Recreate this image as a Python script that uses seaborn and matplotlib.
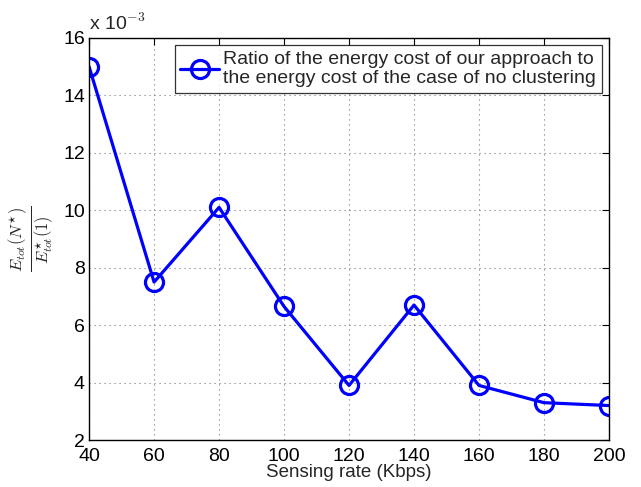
import matplotlib
matplotlib.use("Agg")
import matplotlib.pyplot as plt
import seaborn as sns
import pandas as pd

rates = [40, 60, 80, 100, 120, 140, 160, 180, 200]
ratio_e3 = [15.0, 7.5, 10.1, 6.65, 3.9, 6.7, 3.9, 3.3, 3.2]
x_ticks = [40, 60, 80, 100, 120, 140, 160, 180, 200]
y_ticks = [2, 4, 6, 8, 10, 12, 14, 16]
legend_label = "Ratio of the energy cost of our approach to\nthe energy cost of the case of no clustering"

sns.set_style("white")
plt.rcParams['font.family'] = ['Liberation Sans', 'DejaVu Sans']
plt.rcParams['mathtext.fontset'] = 'cm'

df = pd.DataFrame({"rate": rates, "ratio": ratio_e3})

fig = plt.figure(figsize=(6.41, 4.87), dpi=100)
ax = fig.add_axes([0.139, 0.0965, 0.811, 0.8255])

sns.lineplot(data=df, x="rate", y="ratio", ax=ax, color="#0000ff",
             linewidth=2.3, marker="o", markersize=13, markerfacecolor="none",
             markeredgecolor="#0000ff", markeredgewidth=2.3, label=legend_label)

ax.set_xlim(40, 200)
ax.set_ylim(2, 16)
ax.set_xticks(x_ticks)
ax.set_yticks(y_ticks)
ax.tick_params(direction="in", length=5, width=0.8, labelsize=14, top=True, right=True,
               colors="black")
ax.tick_params(axis="x", pad=6)
ax.tick_params(axis="y", pad=3)
ax.grid(True, linestyle=(0, (1, 3.5)), color="#777777", linewidth=0.8)
for s in ax.spines.values():
    s.set_visible(True)
    s.set_color("black")
    s.set_linewidth(1.0)

ax.set_xlabel("Sensing rate (Kbps)", fontsize=13.5, labelpad=-1)
ax.set_ylabel(r"$\frac{E_{tot}(N^{\star})}{E^{\star}_{tot}(1)}$", fontsize=17,
              va="center", ha="center", rotation_mode="default")
ax.yaxis.set_label_coords(-0.11, 0.5)
ax.text(0.0, 1.01, r"x 10$^{-3}$", transform=ax.transAxes, fontsize=14,
        ha="left", va="bottom")

leg = ax.legend(loc="upper right", fontsize=14, frameon=True, fancybox=False,
                borderaxespad=0.36, handlelength=2.0, borderpad=0.3, labelspacing=0.15,
                handletextpad=0.2)
leg.get_frame().set_edgecolor("black")
leg.get_frame().set_linewidth(0.9)

fig.savefig("out.png", dpi=100)
